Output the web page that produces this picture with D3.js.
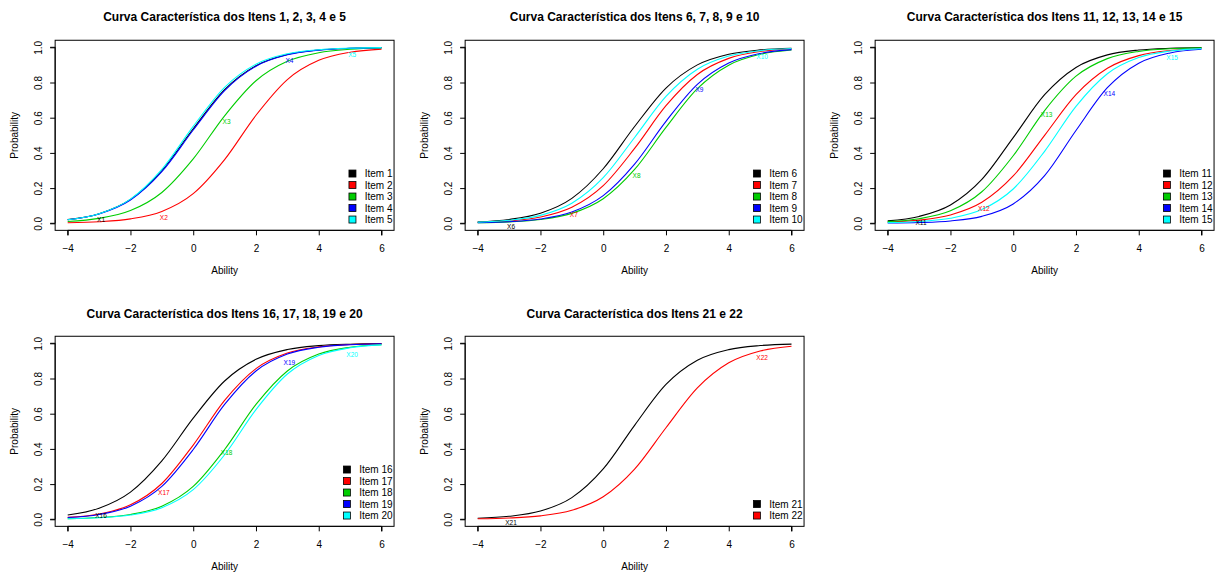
<!DOCTYPE html>
<html>
<head>
<meta charset="utf-8">
<script src="https://cdn.jsdelivr.net/npm/d3@7"></script>
<style>
  html, body { margin: 0; padding: 0; background: #ffffff; }
  svg { display: block; }
  text { font-family: "Liberation Sans", Arial, Helvetica, sans-serif; }
</style>
</head>
<body>
<svg id="chart" width="1225" height="574"></svg>
<script>
// ---- data ----
const abilities = [-4, -3, -2, -1, 0, 1, 2, 3, 4, 5, 6];
const xTickValues = [-4, -2, 0, 2, 4, 6];
const yTickValues = [0, 0.2, 0.4, 0.6, 0.8, 1.0];

const titles = [
  "Curva Característica dos Itens 1, 2, 3, 4 e 5",
  "Curva Característica dos Itens 6, 7, 8, 9 e 10",
  "Curva Característica dos Itens 11, 12, 13, 14 e 15",
  "Curva Característica dos Itens 16, 17, 18, 19 e 20",
  "Curva Característica dos Itens 21 e 22"
];

const seriesColors = ["#000000", "#FF0000", "#00CD00", "#0000FF", "#00FFFF"];

const item1  = [0.0208, 0.0547, 0.1359, 0.2994, 0.5374, 0.7595, 0.8957, 0.9589, 0.9845, 0.9942, 0.9979];
const item2  = [0.0033, 0.0091, 0.0252, 0.0675, 0.1685, 0.3620, 0.6138, 0.8166, 0.9258, 0.9722, 0.9899];
const item3  = [0.0105, 0.0279, 0.0724, 0.1751, 0.3659, 0.6107, 0.8100, 0.9206, 0.9692, 0.9885, 0.9957];
const item4  = [0.0202, 0.0532, 0.1324, 0.2932, 0.5300, 0.7540, 0.8929, 0.9577, 0.9840, 0.9941, 0.9978];
const item5  = [0.0203, 0.0544, 0.1375, 0.3066, 0.5508, 0.7727, 0.9042, 0.9632, 0.9864, 0.9951, 0.9982];
const item6  = [0.0082, 0.0219, 0.0573, 0.1419, 0.3100, 0.5498, 0.7685, 0.9002, 0.9608, 0.9852, 0.9945];
const item7  = [0.0050, 0.0134, 0.0356, 0.0911, 0.2142, 0.4256, 0.6682, 0.8455, 0.9370, 0.9759, 0.9910];
const item8  = [0.0030, 0.0080, 0.0215, 0.0563, 0.1394, 0.3058, 0.5449, 0.7649, 0.8985, 0.9601, 0.9849];
const item9  = [0.0034, 0.0092, 0.0246, 0.0642, 0.1571, 0.3363, 0.5793, 0.7892, 0.9105, 0.9651, 0.9869];
const item10 = [0.0064, 0.0171, 0.0452, 0.1141, 0.2592, 0.4875, 0.7211, 0.8755, 0.9503, 0.9811, 0.9930];
const item11 = [0.0140, 0.0391, 0.1041, 0.2493, 0.4869, 0.7306, 0.8857, 0.9568, 0.9844, 0.9945, 0.9981];
const item12 = [0.0067, 0.0180, 0.0474, 0.1192, 0.2689, 0.5000, 0.7311, 0.8808, 0.9526, 0.9820, 0.9933];
const item13 = [0.0093, 0.0260, 0.0709, 0.1791, 0.3840, 0.6405, 0.8358, 0.9357, 0.9765, 0.9917, 0.9971];
const item14 = [0.0015, 0.0045, 0.0135, 0.0395, 0.1101, 0.2709, 0.5275, 0.7703, 0.9097, 0.9680, 0.9891];
const item15 = [0.0036, 0.0103, 0.0288, 0.0782, 0.1950, 0.4091, 0.6643, 0.8498, 0.9417, 0.9788, 0.9925];
const item16 = [0.0241, 0.0630, 0.1545, 0.3318, 0.5744, 0.7858, 0.9089, 0.9644, 0.9866, 0.9950, 0.9982];
const item17 = [0.0108, 0.0303, 0.0820, 0.2034, 0.4219, 0.6759, 0.8563, 0.9446, 0.9799, 0.9929, 0.9975];
const item18 = [0.0034, 0.0098, 0.0274, 0.0745, 0.1870, 0.3965, 0.6525, 0.8429, 0.9388, 0.9777, 0.9921];
const item19 = [0.0098, 0.0274, 0.0745, 0.1870, 0.3965, 0.6525, 0.8429, 0.9388, 0.9777, 0.9921, 0.9972];
const item20 = [0.0030, 0.0086, 0.0242, 0.0662, 0.1685, 0.3668, 0.6234, 0.8255, 0.9311, 0.9748, 0.9910];
const item21 = [0.0060, 0.0169, 0.0468, 0.1231, 0.2863, 0.5341, 0.7661, 0.9035, 0.9640, 0.9871, 0.9954];
const item22 = [0.0027, 0.0072, 0.0195, 0.0512, 0.1279, 0.2850, 0.5200, 0.7465, 0.8890, 0.9561, 0.9834];

const itemValues = [item1, item2, item3, item4, item5, item6, item7, item8, item9, item10,
  item11, item12, item13, item14, item15, item16, item17, item18, item19, item20, item21, item22];

const itemNames = itemValues.map((d, i) => "Item " + (i + 1));
const curveLabels = itemValues.map((d, i) => "X" + (i + 1));

// in-plot curve label positions (ability, probability), one per item
const curveLabelAbility = [-3, -1, 1, 3, 5,
  -3, -1, 1, 3, 5,
  -3, -1, 1, 3, 5,
  -3, -1, 1, 3, 5,
  -3, 5];
const curveLabelProb = [0.019, 0.032, 0.577, 0.922, 0.956,
  -0.019, 0.047, 0.271, 0.758, 0.947,
  0.006, 0.081, 0.616, 0.739, 0.943,
  0.021, 0.149, 0.378, 0.887, 0.936,
  -0.021, 0.917];

const panelItems = [[0, 1, 2, 3, 4], [5, 6, 7, 8, 9], [10, 11, 12, 13, 14], [15, 16, 17, 18, 19], [20, 21]];

// ---- layout ----
const colX0 = [67.7, 477.7, 887.7];
const rowY0 = [223.3, 519.3];
const plotW = 313.8, plotH = 176;
const titleBase = [21, 317.7];

const svg = d3.select("#chart");

panelItems.forEach((items, p) => {
  const col = p % 3, row = Math.floor(p / 3);
  const x = d3.scaleLinear().domain([-4, 6]).range([colX0[col], colX0[col] + plotW]);
  const y = d3.scaleLinear().domain([0, 1]).range([rowY0[row], rowY0[row] - plotH]);
  const left = x(-4.4), right = x(6.4), top = y(1.04), bottom = y(-0.04);

  const g = svg.append("g");

  // curves
  const line = d3.line()
    .x((d, i) => x(abilities[i]))
    .y(d => y(d))
    .curve(d3.curveMonotoneX);
  items.forEach((it, k) => {
    g.append("path")
      .attr("d", line(itemValues[it]))
      .attr("fill", "none")
      .attr("stroke", seriesColors[k])
      .attr("stroke-width", 1.1);
  });

  // curve labels
  items.forEach((it, k) => {
    g.append("text")
      .attr("x", x(curveLabelAbility[it]) + 2)
      .attr("y", y(curveLabelProb[it]) + 2.3)
      .attr("text-anchor", "middle")
      .attr("font-size", "6.5px")
      .attr("fill", seriesColors[k])
      .text(curveLabels[it]);
  });

  // box
  g.append("rect")
    .attr("x", left).attr("y", top)
    .attr("width", right - left).attr("height", bottom - top)
    .attr("fill", "none").attr("stroke", "#000").attr("stroke-width", 1);

  // x axis
  const xAxis = d3.axisBottom(x).tickValues(xTickValues).tickSize(5).tickPadding(3)
    .tickFormat(d3.format("d"));
  const xa = g.append("g").attr("transform", `translate(0,${bottom})`).call(xAxis);
  xa.select(".domain").attr("d", `M${x(-4)},5V0H${x(6)}V5`).attr("stroke", "#000");
  xa.selectAll(".tick line").attr("stroke", "#000");
  xa.selectAll(".tick text").attr("font-size", "10px").attr("fill", "#000")
    .attr("font-family", "Liberation Sans, Arial, sans-serif")
    .attr("dy", null).attr("y", 21.6);

  // y axis
  const yAxis = d3.axisLeft(y).tickValues(yTickValues).tickSize(5)
    .tickFormat(d3.format(".1f"));
  const ya = g.append("g").attr("transform", `translate(${left},0)`).call(yAxis);
  ya.select(".domain").attr("d", `M-5,${y(0)}H0V${y(1)}H-5`).attr("stroke", "#000");
  ya.selectAll(".tick line").attr("stroke", "#000");
  ya.selectAll(".tick text")
    .attr("font-size", "10px").attr("fill", "#000")
    .attr("font-family", "Liberation Sans, Arial, sans-serif")
    .attr("x", null).attr("dy", null)
    .attr("text-anchor", "middle")
    .attr("transform", "translate(-13.3,0) rotate(-90)");

  // axis titles
  g.append("text")
    .attr("x", (left + right) / 2).attr("y", bottom + 43.8)
    .attr("text-anchor", "middle").attr("font-size", "10px").attr("fill", "#000")
    .text("Ability");
  g.append("text")
    .attr("transform", `translate(${left - 37},${(top + bottom) / 2}) rotate(-90)`)
    .attr("text-anchor", "middle").attr("font-size", "10px").attr("fill", "#000")
    .text("Probability");

  // title
  g.append("text")
    .attr("x", (left + right) / 2).attr("y", titleBase[row])
    .attr("text-anchor", "middle").attr("font-size", "12px").attr("font-weight", "bold")
    .attr("fill", "#000")
    .text(titles[p]);

  // legend (bottom right, no box)
  const lg = g.append("g");
  const texts = items.map(it => itemNames[it]);
  const tmp = lg.selectAll("text.tmp").data(texts).enter().append("text")
    .attr("font-size", "10px").text(d => d);
  let maxW = 0;
  tmp.each(function() { maxW = Math.max(maxW, this.getComputedTextLength()); });
  tmp.remove();
  const textX = right - 1.5 - maxW;
  const n = items.length;
  items.forEach((it, k) => {
    const cy = bottom - 10.8 - (n - 1 - k) * 11.5;
    lg.append("rect")
      .attr("x", textX - 12.3 - 3.5).attr("y", cy - 3.5)
      .attr("width", 7).attr("height", 7)
      .attr("fill", seriesColors[k]).attr("stroke", "#000").attr("stroke-width", 0.8);
    lg.append("text")
      .attr("x", textX).attr("y", cy + 3.6)
      .attr("font-size", "10px").attr("fill", "#000")
      .text(itemNames[it]);
  });
});
</script>
</body>
</html>
